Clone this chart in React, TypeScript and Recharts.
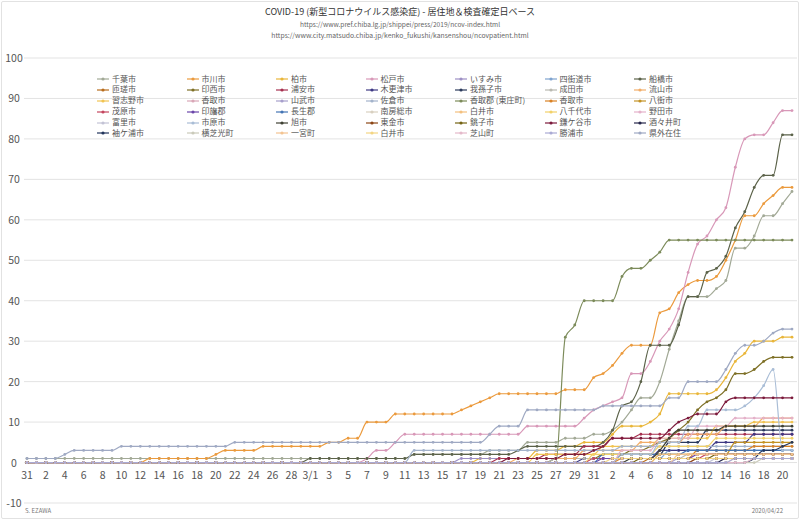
import { LineChart, Line, XAxis, YAxis, CartesianGrid, Legend } from "recharts";

const FONT = "'Noto Sans CJK JP', 'Noto Sans', sans-serif";

// 1/31 .. 4/21
const dates = [
  "1/31",
  "2/1", "2/2", "2/3", "2/4", "2/5", "2/6", "2/7", "2/8", "2/9", "2/10",
  "2/11", "2/12", "2/13", "2/14", "2/15", "2/16", "2/17", "2/18", "2/19", "2/20",
  "2/21", "2/22", "2/23", "2/24", "2/25", "2/26", "2/27", "2/28", "2/29",
  "3/1", "3/2", "3/3", "3/4", "3/5", "3/6", "3/7", "3/8", "3/9", "3/10",
  "3/11", "3/12", "3/13", "3/14", "3/15", "3/16", "3/17", "3/18", "3/19", "3/20",
  "3/21", "3/22", "3/23", "3/24", "3/25", "3/26", "3/27", "3/28", "3/29", "3/30", "3/31",
  "4/1", "4/2", "4/3", "4/4", "4/5", "4/6", "4/7", "4/8", "4/9", "4/10",
  "4/11", "4/12", "4/13", "4/14", "4/15", "4/16", "4/17", "4/18", "4/19", "4/20", "4/21",
];

const yTicks = [-10, 0, 10, 20, 30, 40, 50, 60, 70, 80, 90, 100];

// cumulative cases per area
const chiba = [1,1,1,1,1,1,1,1,1,1, 1,1,1,1,1,1,1,1,1,1, 1,1,1,1,1,1,1,1,1,1, 1,1,1,1,1,1,1,1,1,1, 1,2,2,2,2,2,2,2,2,3, 3,3,3,5,5,5,5,6,6,6, 7,7,8,10,13,16,16,20,28,35, 41,41,41,43,45,53,53,56,61,61, 64,67];
const ichikawa = [0,0,0,0,0,0,0,0,0,0, 0,0,0,1,1,1,1,1,1,1, 2,3,3,3,3,4,4,4,4,4, 4,4,5,5,6,6,10,10,10,12, 12,12,12,12,12,12,13,14,15,16, 17,17,17,17,17,17,17,18,18,18, 21,22,24,27,29,29,29,37,38,42, 44,45,45,46,50,55,61,61,64,66, 68,68];
const kashiwa = [0,0,0,0,0,0,0,0,0,0, 0,0,0,0,0,0,0,0,0,0, 0,0,0,0,0,0,0,0,0,0, 0,0,0,0,0,0,0,0,0,0, 0,0,0,0,0,0,0,0,1,1, 1,1,1,1,3,3,3,4,4,5, 5,5,7,9,9,9,10,12,17,17, 17,17,17,18,21,25,27,30,30,30, 31,31];
const matsudo = [0,0,0,0,0,0,0,0,0,0, 0,0,0,0,0,0,0,0,0,0, 0,0,0,0,0,0,0,0,0,0, 0,0,0,0,0,0,1,3,3,5, 7,7,7,7,7,7,7,7,7,7, 7,7,7,9,9,9,9,9,9,11, 13,14,15,16,22,22,25,30,33,38, 47,54,56,60,63,73,80,81,81,84, 87,87];
const isumi = [0,0,0,0,0,0,0,0,0,0, 0,0,0,0,0,0,0,0,0,0, 0,0,0,0,0,0,0,0,0,0, 0,0,0,0,0,0,0,0,0,0, 0,0,0,0,0,0,1,1,1,1, 1,1,1,1,1,1,1,1,1,1, 1,1,1,1,1,1,1,1,1,1, 1,1,1,1,1,1,1,1,1,1, 1,1];
const yotsukaido = [0,0,0,0,0,0,0,0,0,0, 0,0,0,0,0,0,0,0,0,0, 0,0,0,0,0,0,0,0,0,0, 0,0,0,0,0,0,0,0,0,0, 0,0,0,0,0,0,0,0,0,0, 0,0,0,0,0,0,1,1,1,1, 1,1,1,1,1,1,1,1,3,3, 3,3,3,3,3,3,3,3,3,3, 3,3];
const funabashi = [0,0,0,0,0,0,0,0,0,0, 0,0,0,0,0,0,0,0,0,0, 0,0,0,0,0,0,0,0,0,0, 1,1,1,1,1,1,1,1,1,1, 1,2,2,2,2,2,2,2,2,2, 2,2,3,4,4,4,4,4,4,4, 4,5,8,14,15,20,29,29,29,34, 41,41,47,48,51,58,62,68,71,71, 81,81];
const sosa = [0,0,0,0,0,0,0,0,0,0, 0,0,0,0,0,0,0,0,0,0, 0,0,0,0,0,0,0,0,0,0, 0,0,0,0,0,0,0,0,0,0, 0,0,0,0,0,0,0,0,0,0, 0,0,0,0,0,0,0,0,0,0, 0,0,0,0,0,0,1,1,1,1, 1,1,1,1,1,1,1,1,1,1, 1,1];
const inzai = [0,0,0,0,0,0,0,0,0,0, 0,0,0,0,0,0,0,0,0,0, 0,0,0,0,0,0,0,0,0,0, 0,0,0,0,0,0,0,0,0,0, 0,0,0,0,0,0,0,0,0,0, 0,0,0,0,0,0,1,1,1,1, 1,2,2,2,3,3,4,5,6,8, 10,13,15,16,18,22,22,23,25,26, 26,26];
const urayasu = [0,0,0,0,0,0,0,0,0,0, 0,0,0,0,0,0,0,0,0,0, 0,0,0,0,0,0,0,0,0,0, 0,0,0,0,0,0,0,0,0,0, 0,0,0,0,0,0,0,0,0,0, 1,1,1,1,1,2,2,2,2,4, 4,4,6,6,6,7,7,7,7,7, 7,7,7,7,7,7,7,7,7,7, 7,7];
const kisarazu = [0,0,0,0,0,0,0,0,0,0, 0,0,0,0,0,0,0,0,0,0, 0,0,0,0,0,0,0,0,0,0, 0,0,0,0,0,0,0,0,0,0, 0,0,0,0,0,0,0,0,0,0, 0,0,0,0,0,0,0,0,0,1, 1,1,1,1,1,1,1,3,3,3, 3,3,3,5,5,5,5,7,7,7, 7,7];
const abiko = [0,0,0,0,0,0,0,0,0,0, 0,0,0,0,0,0,0,0,0,0, 0,0,0,0,0,0,0,0,0,0, 0,0,0,0,0,0,0,0,0,0, 0,0,0,0,0,0,0,0,0,0, 0,0,0,0,0,0,0,0,0,0, 0,0,0,2,2,2,2,2,5,5, 5,5,8,8,8,8,8,8,8,8, 8,8];
const narita = [0,0,0,0,0,0,0,0,0,0, 0,0,0,0,0,0,0,0,0,0, 0,0,0,0,0,0,0,0,0,0, 0,0,0,0,0,0,0,0,0,0, 0,0,0,0,0,0,0,0,0,0, 0,0,0,0,0,0,1,1,1,1, 1,1,1,1,1,1,1,1,1,1, 2,2,2,2,2,2,2,2,2,2, 2,2];
const nagareyama = [0,0,0,0,0,0,0,0,0,0, 0,0,0,0,0,0,0,0,0,0, 0,0,0,0,0,0,0,0,0,0, 0,0,0,0,0,0,0,0,0,0, 0,0,0,0,0,0,0,0,0,0, 0,0,1,1,1,1,1,1,1,3, 3,3,3,3,3,5,5,5,5,5, 7,7,7,7,9,9,9,9,11,11, 11,11];
const narashino = [0,0,0,0,0,0,0,0,0,0, 0,0,0,0,0,0,0,0,0,0, 0,0,0,0,0,0,0,0,0,0, 0,0,0,0,0,0,0,0,0,0, 0,0,0,0,0,0,0,0,0,0, 0,0,0,0,2,2,2,2,2,2, 2,4,4,4,4,4,4,6,6,6, 6,6,6,9,9,9,9,10,10,10, 10,10];
const katori = [0,0,0,0,0,0,0,0,0,0, 0,0,0,0,0,0,0,0,0,0, 0,0,0,0,0,0,0,0,0,0, 0,0,0,0,0,0,0,0,0,0, 0,0,0,0,0,0,0,0,0,0, 0,0,0,0,0,0,0,0,0,0, 0,0,0,0,0,0,0,0,0,0, 0,1,1,1,1,1,1,1,1,1, 1,1];
const sanmu = [0,0,0,0,0,0,0,0,0,0, 0,0,0,0,0,0,0,0,0,0, 0,0,0,0,0,0,0,0,0,0, 0,0,0,0,0,0,0,0,0,0, 0,0,0,0,0,0,0,0,0,0, 0,0,0,0,0,0,0,0,0,0, 0,0,0,0,0,0,0,0,0,1, 1,1,1,1,1,1,1,1,1,1, 1,1];
const sakura = [0,0,0,0,0,0,0,0,0,0, 0,0,0,0,0,0,0,0,0,0, 0,0,0,0,0,0,0,0,0,0, 0,0,0,0,0,0,0,0,0,0, 0,3,3,3,3,3,3,3,3,3, 3,3,3,3,3,3,3,3,3,3, 3,3,3,4,4,4,4,4,4,4, 4,4,4,4,4,4,4,4,4,4, 4,4];
const tonosho = [0,0,0,0,0,0,0,0,0,0, 0,0,0,0,0,0,0,0,0,0, 0,0,0,0,0,0,0,0,0,0, 0,0,0,0,0,0,0,0,0,0, 0,0,0,0,0,0,0,0,0,0, 0,0,0,0,0,0,0,31,34,40, 40,40,40,46,48,48,50,52,55,55, 55,55,55,55,55,55,55,55,55,55, 55,55];
const katoriB = [0,0,0,0,0,0,0,0,0,0, 0,0,0,0,0,0,0,0,0,0, 0,0,0,0,0,0,0,0,0,0, 0,0,0,0,0,0,0,0,0,0, 0,0,0,0,0,0,0,0,0,0, 0,0,0,0,0,0,0,0,0,0, 0,0,0,1,1,1,1,1,1,1, 1,3,3,3,3,3,3,4,4,4, 4,4];
const yachimata = [0,0,0,0,0,0,0,0,0,0, 0,0,0,0,0,0,0,0,0,0, 0,0,0,0,0,0,0,0,0,0, 0,0,0,0,0,0,0,0,0,0, 0,0,0,0,0,0,0,0,0,0, 0,0,0,0,0,0,0,0,0,0, 0,0,0,0,0,0,0,2,2,2, 2,2,2,2,2,5,5,5,5,5, 5,5];
const mobara = [0,0,0,0,0,0,0,0,0,0, 0,0,0,0,0,0,0,0,0,0, 0,0,0,0,0,0,0,0,0,0, 0,0,0,0,0,0,0,0,0,0, 0,0,0,0,0,0,0,0,0,0, 0,0,0,0,0,0,0,0,0,0, 1,1,1,1,1,1,1,1,1,1, 1,1,2,2,2,2,2,2,2,2, 2,2];
const inba = [0,0,0,0,0,0,0,0,0,0, 0,0,0,0,0,0,0,0,0,0, 0,0,0,0,0,0,0,0,0,0, 0,0,0,0,0,0,0,0,0,0, 0,0,0,0,0,0,0,0,0,0, 0,0,0,0,0,0,0,0,0,0, 0,1,1,1,1,1,1,1,1,1, 1,2,2,2,2,2,2,2,2,2, 2,2];
const chosei = [0,0,0,0,0,0,0,0,0,0, 0,0,0,0,0,0,0,0,0,0, 0,0,0,0,0,0,0,0,0,0, 0,0,0,0,0,0,0,0,0,0, 0,0,0,0,0,0,0,0,0,0, 0,0,0,0,0,0,0,0,0,0, 0,2,2,2,2,2,2,2,2,2, 3,3,3,3,3,3,3,3,3,3, 3,3];
const minamiboso = [0,0,0,0,0,0,0,0,0,0, 0,0,0,0,0,0,0,0,0,0, 0,0,0,0,0,0,0,0,0,0, 0,0,0,0,0,0,0,0,0,0, 0,0,0,0,0,0,0,0,0,0, 0,0,0,0,0,0,0,0,0,0, 0,0,0,0,0,0,0,0,0,0, 0,0,0,0,0,1,1,1,1,1, 1,1];
const shiroi = [0,0,0,0,0,0,0,0,0,0, 0,0,0,0,0,0,0,0,0,0, 0,0,0,0,0,0,0,0,0,0, 0,0,0,0,0,0,0,0,0,0, 0,0,0,0,0,0,0,0,0,0, 0,0,0,0,0,0,0,0,0,0, 0,0,0,0,0,0,0,2,2,2, 2,2,2,2,2,2,2,2,2,2, 2,2];
const yachiyo = [0,0,0,0,0,0,0,0,0,0, 0,0,0,0,0,0,0,0,0,0, 0,0,0,0,0,0,0,0,0,0, 0,0,0,0,0,0,0,0,0,0, 0,0,0,0,0,0,0,0,0,0, 0,0,0,0,0,0,0,0,0,0, 2,2,2,2,2,2,2,4,4,4, 4,4,4,6,6,6,6,6,6,6, 6,6];
const noda = [0,0,0,0,0,0,0,0,0,0, 0,0,0,0,0,0,0,0,0,0, 0,0,0,0,0,0,0,0,0,0, 0,0,0,0,0,0,0,0,0,0, 0,0,0,0,0,0,0,0,0,0, 0,0,0,0,0,0,0,0,0,0, 0,0,0,3,3,3,3,6,6,6, 6,9,9,9,9,11,11,11,11,11, 11,11];
const tomisato = [0,0,0,0,0,0,0,0,0,0, 0,0,0,0,0,0,0,0,0,0, 0,0,0,0,0,0,0,0,0,0, 0,0,0,0,0,0,0,0,0,0, 0,0,0,0,0,0,0,0,0,0, 0,0,0,0,0,0,0,0,0,0, 0,0,0,0,0,0,0,0,0,0, 0,0,0,1,1,1,1,1,1,1, 1,1];
const ichihara = [0,0,0,0,0,0,0,0,0,0, 0,0,0,0,0,0,0,0,0,0, 0,0,0,0,0,0,0,0,0,0, 0,0,0,0,0,0,0,0,0,0, 0,0,0,0,0,0,0,0,0,0, 0,0,0,0,0,0,0,0,0,0, 0,0,0,2,2,2,2,5,5,5, 9,9,13,13,13,13,14,16,19,23, 3,3];
const asahi = [0,0,0,0,0,0,0,0,0,0, 0,0,0,0,0,0,0,0,0,0, 0,0,0,0,0,0,0,0,0,0, 0,0,0,0,0,0,0,0,0,0, 0,0,0,0,0,0,0,0,0,0, 0,0,0,0,0,0,0,0,0,0, 0,0,0,0,1,1,1,3,6,8, 8,8,8,8,9,9,9,9,9,9, 9,9];
const togane = [0,0,0,0,0,0,0,0,0,0, 0,0,0,0,0,0,0,0,0,0, 0,0,0,0,0,0,0,0,0,0, 0,0,0,0,0,0,0,0,0,0, 0,0,0,0,0,0,0,0,0,0, 0,0,0,0,0,0,0,0,0,0, 0,0,0,0,0,0,0,0,0,0, 0,1,1,1,1,1,1,1,1,1, 1,1];
const choshi = [0,0,0,0,0,0,0,0,0,0, 0,0,0,0,0,0,0,0,0,0, 0,0,0,0,0,0,0,0,0,0, 0,0,0,0,0,0,0,0,0,0, 0,0,0,0,0,0,0,0,0,0, 0,0,0,0,0,0,0,0,0,0, 0,0,0,0,0,1,1,1,1,1, 1,1,1,2,2,2,2,2,2,2, 2,2];
const kamagaya = [0,0,0,0,0,0,0,0,0,0, 0,0,0,0,0,0,0,0,0,0, 0,0,0,0,0,0,0,0,0,0, 0,0,0,0,0,0,0,0,0,0, 0,0,0,0,0,0,0,0,0,0, 0,1,1,1,1,1,1,2,2,2, 3,4,6,6,6,6,6,6,8,10, 11,12,12,12,15,16,16,16,16,16, 16,16];
const shisui = [0,0,0,0,0,0,0,0,0,0, 0,0,0,0,0,0,0,0,0,0, 0,0,0,0,0,0,0,0,0,0, 0,0,0,0,0,0,0,0,0,0, 0,0,0,0,0,0,0,0,0,0, 0,0,0,0,0,0,0,0,0,0, 0,0,0,0,0,0,0,0,0,0, 0,0,0,0,1,1,1,1,1,1, 1,1];
const sodegaura = [0,0,0,0,0,0,0,0,0,0, 0,0,0,0,0,0,0,0,0,0, 0,0,0,0,0,0,0,0,0,0, 0,0,0,0,0,0,0,0,0,0, 0,0,0,0,0,0,0,0,0,0, 0,0,0,0,0,0,0,0,0,0, 0,0,0,0,0,0,0,0,0,0, 0,0,0,0,0,0,0,1,3,3, 4,5];
const yokoshibahikari = [0,0,0,0,0,0,0,0,0,0, 0,0,0,0,0,0,0,0,0,0, 0,0,0,0,0,0,0,0,0,0, 0,0,0,0,0,0,0,0,0,0, 0,0,0,0,0,0,0,0,0,0, 0,0,0,0,0,0,0,0,0,0, 0,0,0,0,0,0,0,0,0,0, 0,0,0,0,0,0,0,0,1,1, 1,1];
const ichinomiya = [0,0,0,0,0,0,0,0,0,0, 0,0,0,0,0,0,0,0,0,0, 0,0,0,0,0,0,0,0,0,0, 0,0,0,0,0,0,0,0,0,0, 0,0,0,0,0,0,0,0,0,0, 0,0,0,0,0,0,0,0,0,0, 0,0,0,0,0,0,0,0,0,2, 2,2,2,2,2,2,2,2,2,2, 2,2];
const shiroiB = [0,0,0,0,0,0,0,0,0,0, 0,0,0,0,0,0,0,0,0,0, 0,0,0,0,0,0,0,0,0,0, 0,0,0,0,0,0,0,0,0,0, 0,0,0,0,0,0,0,0,0,0, 0,0,0,0,0,0,0,0,0,0, 0,0,1,1,1,1,1,1,1,1, 1,1,1,1,1,1,1,1,1,1, 1,1];
const shibayama = [0,0,0,0,0,0,0,0,0,0, 0,0,0,0,0,0,0,0,0,0, 0,0,0,0,0,0,0,0,0,0, 0,0,0,0,0,0,0,0,0,0, 0,0,0,0,0,0,0,0,0,0, 0,0,0,0,0,0,0,0,0,0, 0,0,0,0,0,0,0,0,0,0, 0,0,0,0,0,0,0,1,1,1, 1,1];
const katsuura = [0,0,0,0,0,0,0,0,0,0, 0,0,0,0,0,0,0,0,0,0, 0,0,0,0,0,0,0,0,0,0, 0,0,0,0,0,0,0,0,0,0, 0,0,0,0,0,0,0,0,0,0, 0,0,0,0,0,0,0,0,0,0, 0,0,0,0,0,0,0,0,0,0, 0,0,0,0,0,1,1,1,1,1, 1,1];
const kengai = [1,1,1,1,2,3,3,3,3,3, 4,4,4,4,4,4,4,4,4,4, 4,4,5,5,5,5,5,5,5,5, 5,5,5,5,5,5,5,5,5,5, 5,5,5,5,5,5,5,5,5,7, 9,9,9,13,13,13,13,13,13,13, 13,14,14,14,14,14,14,14,16,16, 20,20,20,20,23,27,29,29,30,32, 33,33];

// legend order (7 per row)
const SERIES = [
  { name: "千葉市", color: "#a2a996", values: chiba },
  { name: "市川市", color: "#eb9a3d", values: ichikawa },
  { name: "柏市", color: "#e9b63a", values: kashiwa },
  { name: "松戸市", color: "#d898b8", values: matsudo },
  { name: "いすみ市", color: "#9d8fc4", values: isumi },
  { name: "四街道市", color: "#7fa3cf", values: yotsukaido },
  { name: "船橋市", color: "#5b6249", values: funabashi },
  { name: "匝瑳市", color: "#b86c1c", values: sosa },
  { name: "印西市", color: "#7e7026", values: inzai },
  { name: "浦安市", color: "#a6304f", values: urayasu },
  { name: "木更津市", color: "#3e3984", values: kisarazu },
  { name: "我孫子市", color: "#2b3a5c", values: abiko },
  { name: "成田市", color: "#b9b9b0", values: narita },
  { name: "流山市", color: "#f2ad68", values: nagareyama },
  { name: "習志野市", color: "#f1c452", values: narashino },
  { name: "香取市", color: "#d9a7b7", values: katori },
  { name: "山武市", color: "#a79fcc", values: sanmu },
  { name: "佐倉市", color: "#a3b3cb", values: sakura },
  { name: "香取郡 (東庄町)", color: "#7c8b5a", values: tonosho },
  { name: "香取市", color: "#d98124", values: katoriB },
  { name: "八街市", color: "#c39325", values: yachimata },
  { name: "茂原市", color: "#c4455f", values: mobara },
  { name: "印旛郡", color: "#6b45a9", values: inba },
  { name: "長生郡", color: "#4374b4", values: chosei },
  { name: "南房総市", color: "#d8d0c0", values: minamiboso },
  { name: "白井市", color: "#f3c07e", values: shiroi },
  { name: "八千代市", color: "#f2d168", values: yachiyo },
  { name: "野田市", color: "#e4b1c9", values: noda },
  { name: "富里市", color: "#c3c3d5", values: tomisato },
  { name: "市原市", color: "#a9bdd6", values: ichihara },
  { name: "旭市", color: "#3f4133", values: asahi },
  { name: "東金市", color: "#8c4515", values: togane },
  { name: "銚子市", color: "#756313", values: choshi },
  { name: "鎌ケ谷市", color: "#7c1a3c", values: kamagaya },
  { name: "酒々井町", color: "#25254a", values: shisui },
  { name: "袖ケ浦市", color: "#22355c", values: sodegaura },
  { name: "横芝光町", color: "#cacaba", values: yokoshibahikari },
  { name: "一宮町", color: "#f3c492", values: ichinomiya },
  { name: "白井市", color: "#f3d584", values: shiroiB },
  { name: "芝山町", color: "#e4b9ca", values: shibayama },
  { name: "勝浦市", color: "#aaaad4", values: katsuura },
  { name: "県外在住", color: "#9fa9c3", values: kengai },
];

const rows = dates.map((date, i) => {
  const row: Record<string, string | number> = { date };
  SERIES.forEach((s, k) => {
    row["s" + k] = s.values[i];
  });
  return row;
});

// category labels sit on the zero line, not under the plot
const DateTick = ({ x, y, payload }: any) => {
  const v = String(payload.value);
  const day = v.split("/")[1];
  return (
    <text x={x} y={y} dy={-32} textAnchor="middle" fontSize={10.5} fill="#555" fontFamily={FONT}>
      {day === "1" ? v : day}
    </text>
  );
};

const ValueTick = ({ x, y, payload }: any) => (
  <text x={x} y={y} dx={-2} dy={4} textAnchor="middle" fontSize={10.5} fill="#555" fontFamily={FONT}>
    {payload.value}
  </text>
);

const LegendGrid = () => (
  <div
    style={{
      display: "grid",
      gridTemplateColumns: "repeat(7, 89.5px)",
      gridAutoRows: "10.9px",
      fontSize: 8,
      color: "#555",
      fontFamily: FONT,
    }}
  >
    {SERIES.map((s, k) => (
      <div key={k} style={{ display: "flex", alignItems: "center", whiteSpace: "nowrap" }}>
        <svg width={15} height={8} style={{ flexShrink: 0 }}>
          <line x1={1} y1={4} x2={13} y2={4} stroke={s.color} strokeWidth={1.2} />
          <circle cx={7} cy={4} r={1.6} fill={s.color} />
        </svg>
        <span style={{ marginLeft: 1, lineHeight: "10.9px" }}>{s.name}</span>
      </div>
    ))}
  </div>
);

export default function App() {
  return (
    <div style={{ position: "absolute", left: 0, top: 0, width: 800, height: 521, background: "#fff", fontFamily: FONT }}>
      <div style={{ position: "absolute", left: 1, top: 1, width: 796, height: 516, border: "1px solid #e2e2e2", borderRadius: 2 }} />
      <div style={{ position: "absolute", top: 4.5, width: 800, textAlign: "center", fontSize: 9, color: "#333", lineHeight: "14px" }}>
        COVID-19 (新型コロナウイルス感染症) - 居住地＆検査確定日ベース
      </div>
      <div style={{ position: "absolute", top: 19, width: 800, textAlign: "center", fontSize: 6.6, color: "#666", lineHeight: "10px" }}>
        https://www.pref.chiba.lg.jp/shippei/press/2019/ncov-index.html
      </div>
      <div style={{ position: "absolute", top: 29.5, width: 800, textAlign: "center", fontSize: 6.8, color: "#666", lineHeight: "10px" }}>
        https://www.city.matsudo.chiba.jp/kenko_fukushi/kansenshou/ncovpatient.html
      </div>
      <LineChart width={800} height={521} data={rows} margin={{ top: 58, right: 3, bottom: -12, left: 0 }}>
        <CartesianGrid vertical={false} stroke="#e3e3e3" />
        <XAxis
          dataKey="date"
          height={30}
          interval={1}
          axisLine={false}
          tickLine={false}
          padding={{ left: 3, right: 5 }}
          tick={<DateTick />}
        />
        <YAxis
          width={24}
          domain={[-10, 100]}
          ticks={yTicks}
          interval={0}
          axisLine={false}
          tickLine={false}
          tick={<ValueTick />}
        />
        <Legend
          layout="horizontal"
          verticalAlign="middle"
          align="center"
          wrapperStyle={{ top: 73.5, left: 96, width: 630 }}
          content={() => <LegendGrid />}
        />
        {SERIES.map((s, k) => (
          <Line
            key={k}
            type="monotone"
            dataKey={"s" + k}
            name={s.name}
            stroke={s.color}
            strokeWidth={1.2}
            dot={{ r: 1.4, fill: s.color, stroke: s.color, strokeWidth: 0 }}
            activeDot={false}
            isAnimationActive={false}
          />
        ))}
      </LineChart>
      <div style={{ position: "absolute", left: 25, top: 506, fontSize: 6, color: "#777" }}>S. EZAWA</div>
      <div style={{ position: "absolute", right: 17, top: 506, fontSize: 6, color: "#777" }}>2020/04/22</div>
    </div>
  );
}
